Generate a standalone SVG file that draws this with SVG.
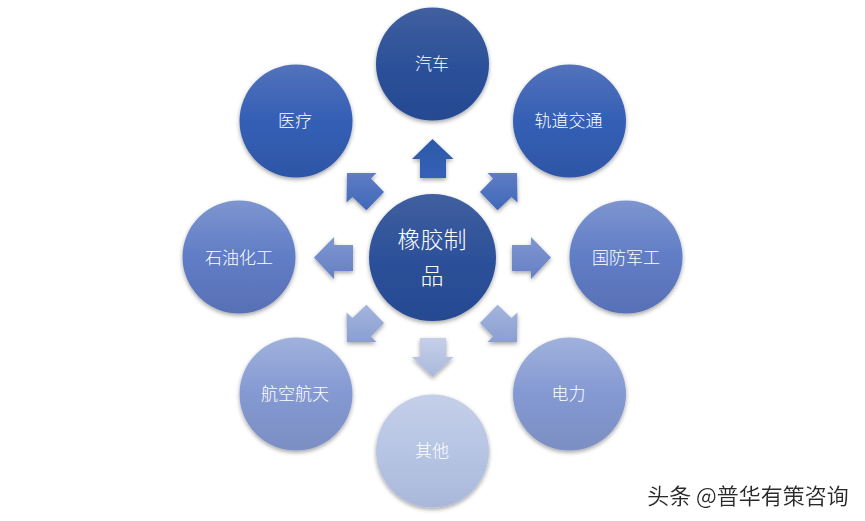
<svg xmlns="http://www.w3.org/2000/svg" width="865" height="521" viewBox="0 0 865 521">
<style>
text{font-family:"Noto Sans CJK SC","Noto Sans",sans-serif;text-anchor:middle;dominant-baseline:central;fill:#fff;font-weight:300}
.l{font-size:17px}
.c{font-size:23px}
.w{font-size:22px;fill:#2a2a2a;font-weight:400;filter:url(#ws)}
circle,polygon{filter:url(#sh)}
</style>
<defs>
<filter id="sh" x="-20%" y="-20%" width="140%" height="140%"><feDropShadow dx="0" dy="2" stdDeviation="2" flood-color="#000" flood-opacity=".36"/></filter>
<filter id="ws" x="-5%" y="-20%" width="110%" height="140%"><feDropShadow dx="1" dy="1" stdDeviation=".3" flood-color="#fff" flood-opacity=".9"/></filter>
<linearGradient id="g0" x1="0" y1="0" x2="0" y2="1"><stop offset="0" stop-color="#415f9f"/><stop offset=".5" stop-color="#2c5199"/><stop offset="1" stop-color="#254a92"/></linearGradient>
<linearGradient id="g1" x1="0" y1="0" x2="0" y2="1"><stop offset="0" stop-color="#5472bb"/><stop offset=".5" stop-color="#345fb5"/><stop offset="1" stop-color="#2e56a6"/></linearGradient>
<linearGradient id="g2" x1="0" y1="0" x2="0" y2="1"><stop offset="0" stop-color="#7d95cf"/><stop offset=".5" stop-color="#607dc6"/><stop offset="1" stop-color="#5870b5"/></linearGradient>
<linearGradient id="g3" x1="0" y1="0" x2="0" y2="1"><stop offset="0" stop-color="#a0b1dc"/><stop offset=".5" stop-color="#8499d2"/><stop offset="1" stop-color="#7c8fc3"/></linearGradient>
<linearGradient id="g4" x1="0" y1="0" x2="0" y2="1"><stop offset="0" stop-color="#c5cfe8"/><stop offset=".5" stop-color="#b7c5e4"/><stop offset="1" stop-color="#a9b8da"/></linearGradient>
<linearGradient id="a0" x1="0" y1="0" x2="0" y2="1"><stop offset="0" stop-color="#2c5aa8"/><stop offset="1" stop-color="#3560b6"/></linearGradient>
<linearGradient id="a1" x1="0" y1="0" x2="0" y2="1"><stop offset="0" stop-color="#5f7cc4"/><stop offset="1" stop-color="#3f68b9"/></linearGradient>
<linearGradient id="a2" x1="0" y1="0" x2="0" y2="1"><stop offset="0" stop-color="#8096d0"/><stop offset="1" stop-color="#6480c4"/></linearGradient>
<linearGradient id="a3" x1="0" y1="0" x2="0" y2="1"><stop offset="0" stop-color="#a4b4dc"/><stop offset="1" stop-color="#8a9fd2"/></linearGradient>
<linearGradient id="a4" x1="0" y1="0" x2="0" y2="1"><stop offset="0" stop-color="#c5cfe8"/><stop offset="1" stop-color="#a9b8dc"/></linearGradient>
</defs>
<g id="connectors">
<polygon fill="url(#a0)" points="432.5,139 453.5,159 446,159 446,178 420,178 420,159 412,159"/>
<polygon fill="url(#a1)" points="517,173 517.5,202.6 511.5,196.9 497.6,210.3 480,192 493.1,178.5 487.5,172.9"/>
<polygon fill="url(#a1)" points="347,173 346.5,202.6 352.5,196.9 366.4,210.3 384,192 370.9,178.5 376.5,172.9"/>
<polygon fill="url(#a2)" points="551,257.5 531,237 531,245 512,245 512,271 531,271 531,279"/>
<polygon fill="url(#a2)" points="314,257.5 334,237 334,245 353,245 353,271 334,271 334,279"/>
<polygon fill="url(#a3)" points="517,342 517.5,312.4 511.5,318.1 497.6,304.7 480,323 493.1,336.5 487.5,342.1"/>
<polygon fill="url(#a3)" points="347,342 346.5,312.4 352.5,318.1 366.4,304.7 384,323 370.9,336.5 376.5,342.1"/>
<polygon fill="url(#a4)" points="432.5,377 453.5,357 446,357 446,338 420,338 420,357 412,357"/>
</g>
<g id="n-center"><circle cx="432.5" cy="257.5" r="63.5" fill="url(#g0)"/><text class="c" x="432" y="238">橡胶制</text><text class="c" x="432" y="274">品</text></g>
<g id="n-car"><circle cx="432.5" cy="64" r="56.5" fill="url(#g0)"/><text class="l" x="432" y="62">汽车</text></g>
<g id="n-rail"><circle cx="569.5" cy="121" r="56.5" fill="url(#g1)"/><text class="l" x="568.5" y="119">轨道交通</text></g>
<g id="n-medical"><circle cx="296" cy="121" r="56.5" fill="url(#g1)"/><text class="l" x="295" y="119">医疗</text></g>
<g id="n-defense"><circle cx="626" cy="257" r="56.5" fill="url(#g2)"/><text class="l" x="626" y="256">国防军工</text></g>
<g id="n-oil"><circle cx="239" cy="257" r="56.5" fill="url(#g2)"/><text class="l" x="239" y="256">石油化工</text></g>
<g id="n-power"><circle cx="569.5" cy="394" r="56.5" fill="url(#g3)"/><text class="l" x="568.5" y="392">电力</text></g>
<g id="n-aero"><circle cx="296" cy="394" r="56.5" fill="url(#g3)"/><text class="l" x="295" y="392">航空航天</text></g>
<g id="n-other"><circle cx="432.5" cy="451" r="56.5" fill="url(#g4)"/><text class="l" x="432" y="449">其他</text></g>
<text class="w" x="748" y="494">头条 @普华有策咨询</text>
</svg>
